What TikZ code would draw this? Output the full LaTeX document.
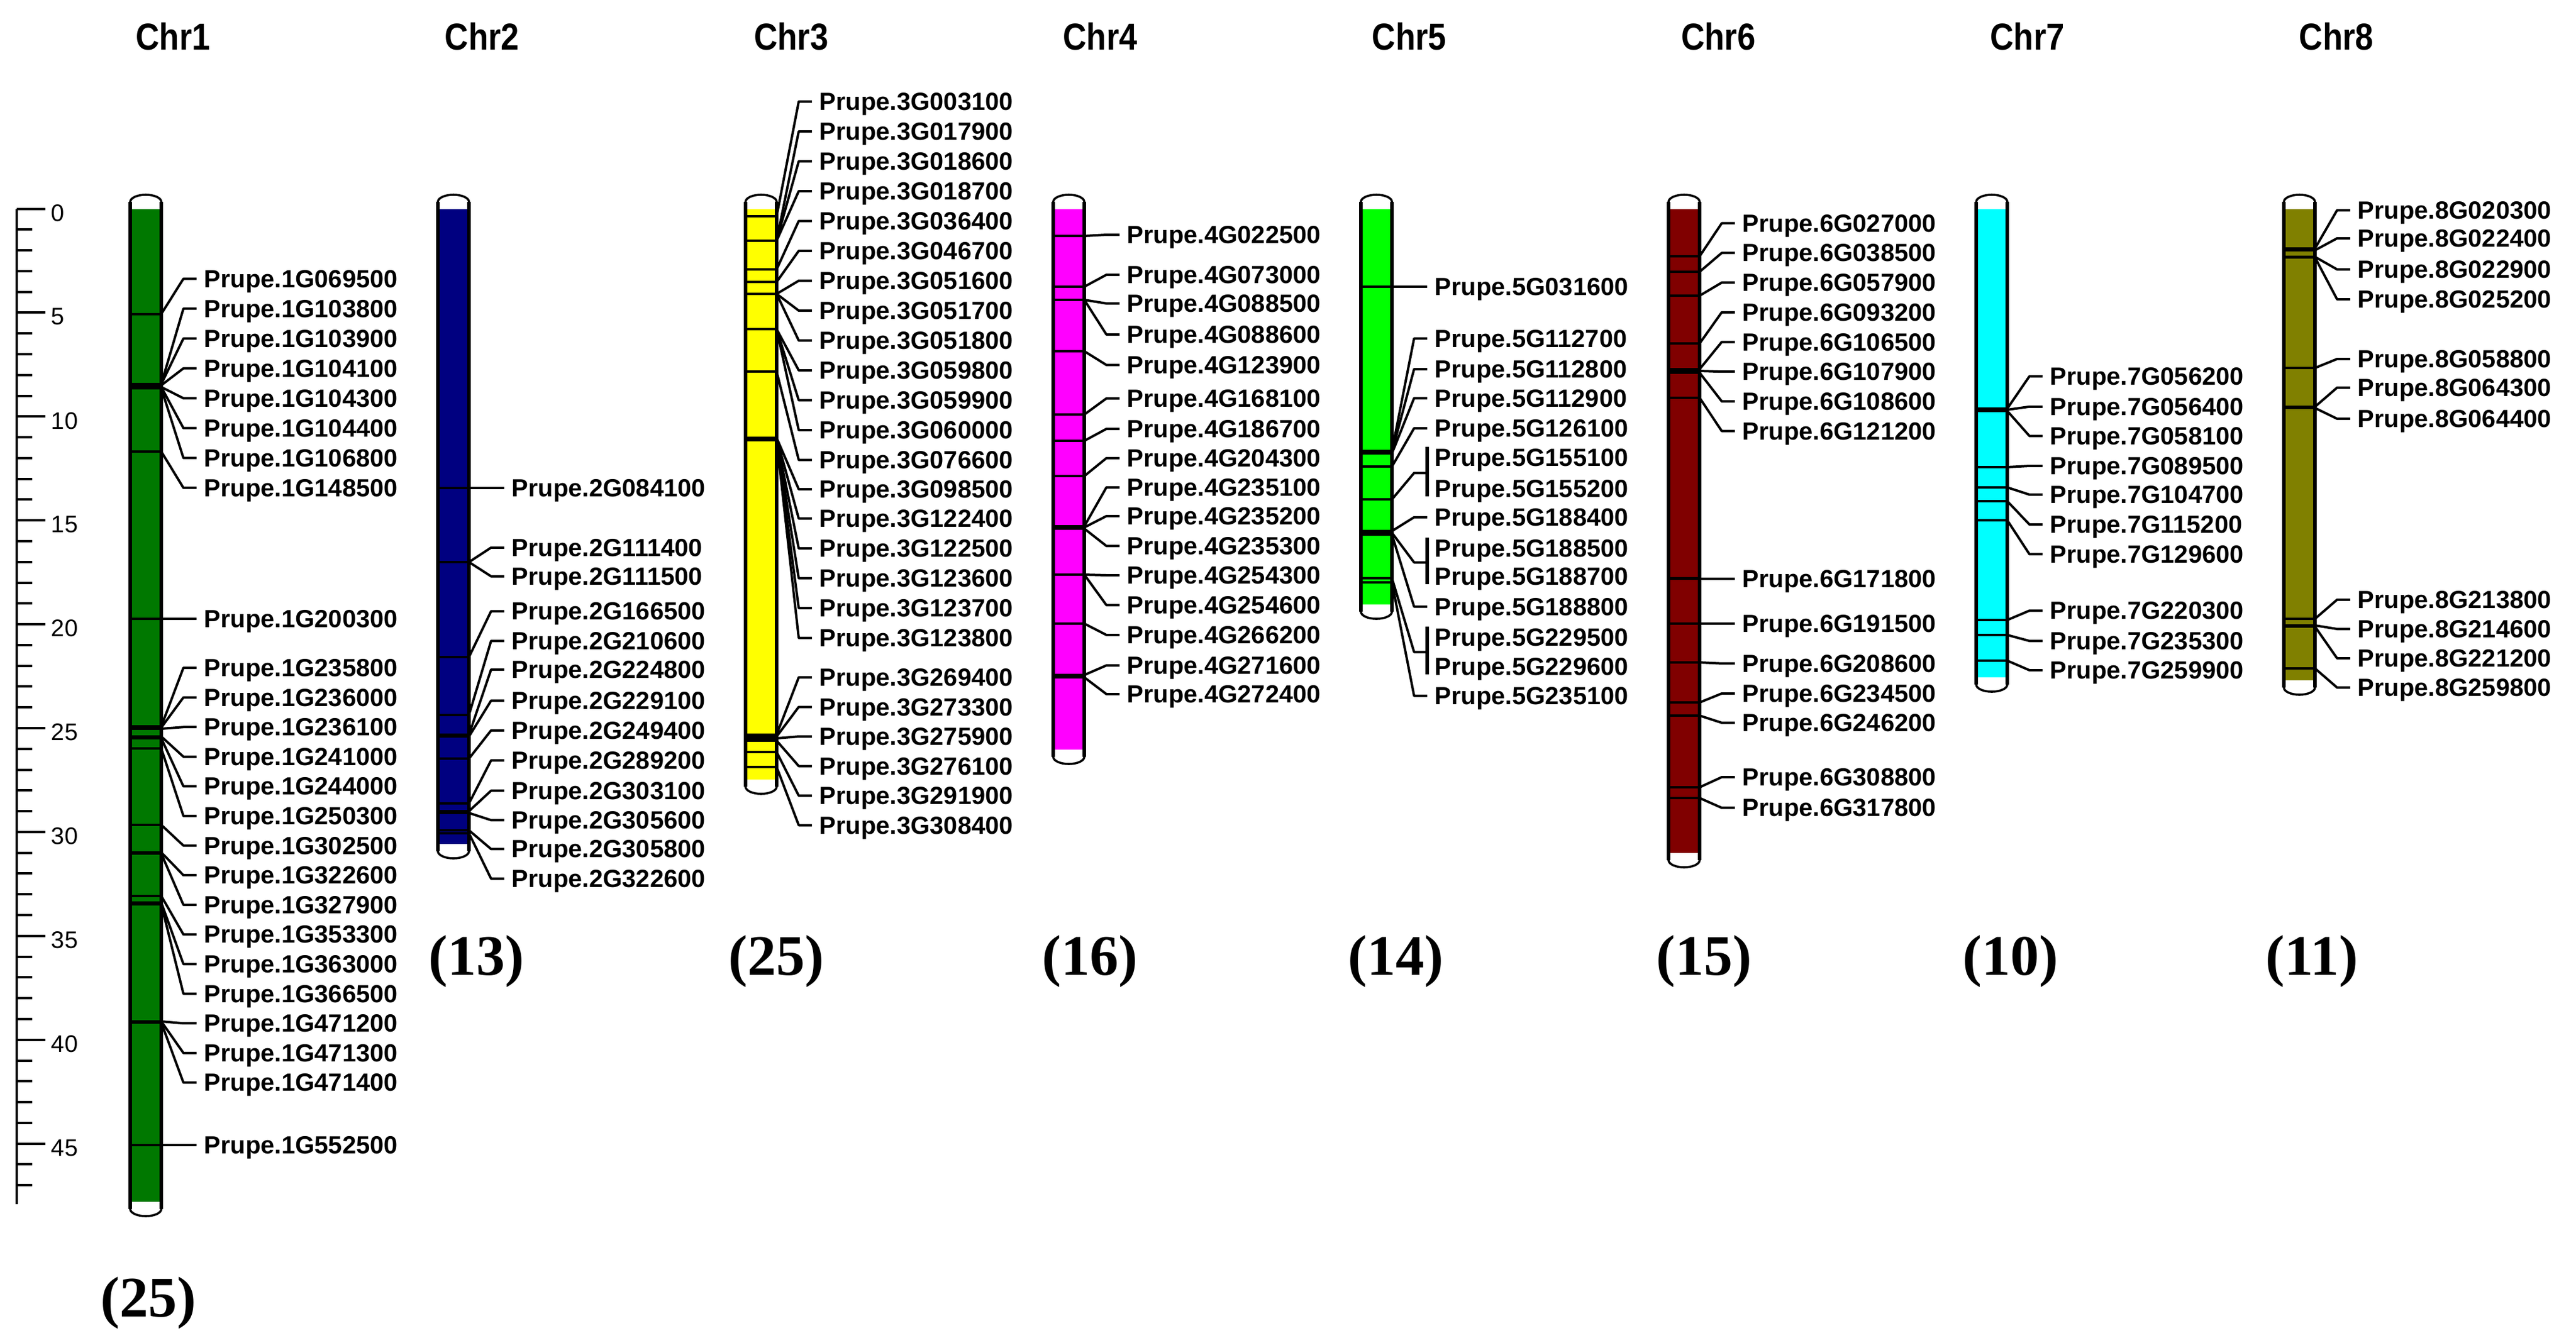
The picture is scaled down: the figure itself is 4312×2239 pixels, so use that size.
\documentclass[tikz,border=0pt]{standalone}
\usepackage{fontspec}
\setmainfont{Liberation Sans}
\newfontfamily\cntfont{Liberation Serif}
\usepackage{graphicx}
\usetikzlibrary{calc}
\definecolor{col1}{RGB}{0,120,0}
\definecolor{col2}{RGB}{0,0,128}
\definecolor{col3}{RGB}{255,255,0}
\definecolor{col4}{RGB}{255,0,255}
\definecolor{col5}{RGB}{0,255,0}
\definecolor{col6}{RGB}{128,0,0}
\definecolor{col7}{RGB}{0,255,255}
\definecolor{col8}{RGB}{128,128,0}
\tikzset{
  conn/.style={line width=1pt, line join=round},
  mk/.style={line width=1.05pt},
  side/.style={line width=1.7pt},
  capline/.style={line width=0.9pt, fill=white},
  lab/.style={anchor=base west, inner sep=0pt, font=\fontsize{10.4}{12}\selectfont\bfseries},
  ticklab/.style={anchor=west, inner sep=0pt, font=\fontsize{10}{12}\selectfont},
  axisline/.style={line width=1.2pt},
  tickline/.style={line width=1pt},
  chrtitle/.style={anchor=base west, inner sep=0pt, font=\fontsize{15.7}{18}\selectfont\bfseries},
  cnt/.style={inner sep=0pt, font=\cntfont\bfseries\fontsize{24}{28}\selectfont},
  brk/.style={line width=1.5pt}
}
% #1 index, #2 left x, #3 bottom y, #4 colour, #5 genes gy/ly/name
\newcommand{\chromo}[5]{%
  \pgfmathsetmacro{\xl}{#2}%
  \pgfmathsetmacro{\xr}{#2+52}%
  \fill[#4] (\xl,350) rectangle (\xr,#3);
  \foreach \gy/\ly/\gt [count=\k] in {#5} {
    \draw[mk] (\xl,\gy) -- (\xr,\gy);
    \coordinate (m#1-\k) at (\xr,\gy);
    \coordinate (b#1-\k) at (\xr+37,\ly);
    \coordinate (e#1-\k) at (\xr+59,\ly);
    \node[lab] (l#1-\k) at (\xr+71,\ly+14.5) {Prupe.\gt};
    \draw[conn] (m#1-\k) -- (b#1-\k) -- (e#1-\k);
  }
  \draw[capline] (\xl,350) -- (\xl,338) arc[start angle=180,end angle=0,x radius=6.5pt,y radius=3pt] -- (\xr,350);
  \draw[capline] (\xl,#3) -- (\xl,#3+12) arc[start angle=180,end angle=360,x radius=6.5pt,y radius=3pt] -- (\xr,#3);
  \draw[side] (\xl,338) -- (\xl,#3+12);
  \draw[side] (\xr,338) -- (\xr,#3+12);
}
\begin{document}
\begin{tikzpicture}[x=0.25pt,y=-0.25pt]
\fill[white] (0,0) rectangle (4312,2239);
\useasboundingbox (0,0) rectangle (4312,2239);

% ruler
\draw[axisline] (28,349.5) -- (28,2016);
\foreach \k in {0,...,47} {
  \draw[tickline] (28,{349.5+34.78*\k}) -- (54,{349.5+34.78*\k});
}
\foreach \k in {0,5,...,45} {
  \draw[tickline] (28,{349.5+34.78*\k}) -- (76,{349.5+34.78*\k});
  \node[ticklab] (t\k) at (85,{349.5+34.78*\k+7}) {\k};
}

% titles
\foreach \i in {1,...,8} {
  \node[chrtitle] (title\i) at ({226.7+517.3*(\i-1)},83) {\scalebox{0.87}[1]{Chr\i}};
}

% Chr1
\chromo{1}{218}{2012}{col1}{
525.6/466.7/1G069500,
643/516.7/1G103800,
643/566.7/1G103900,
645/616.7/1G104100,
648/666.7/1G104300,
648/716.7/1G104400,
650/766.7/1G106800,
756/816.7/1G148500,
1036/1036/1G200300,
1216/1118/1G235800,
1218/1167.6/1G236000,
1220/1217.2/1G236100,
1233/1266.8/1G241000,
1236/1316.4/1G244000,
1253/1366/1G250300,
1381/1415.6/1G302500,
1427/1465.2/1G322600,
1429/1514.8/1G327900,
1500/1564.4/1G353300,
1511/1614/1G363000,
1514/1663.6/1G366500,
1710/1713.2/1G471200,
1710/1762.8/1G471300,
1712/1812.4/1G471400,
1917/1917/1G552500}

% Chr2
\chromo{2}{733}{1413}{col2}{
816.6/816.6/2G084100,
941/916.8/2G111400,
941/964.8/2G111500,
1100/1023.3/2G166500,
1197/1073/2G210600,
1230/1121/2G224800,
1233/1173/2G229100,
1270/1222.8/2G249400,
1345/1273/2G289200,
1358/1323.7/2G303100,
1361/1373/2G305600,
1390/1421.4/2G305800,
1395/1471/2G322600}

% Chr3
\chromo{3}{1248}{1305}{col3}{
362/170/3G003100,
403/220/3G017900,
403/270/3G018600,
403/320/3G018700,
451/370/3G036400,
472/420/3G046700,
492/470/3G051600,
492/520/3G051700,
492/570/3G051800,
551/620/3G059800,
551/670/3G059900,
551/720/3G060000,
622/770/3G076600,
733/819/3G098500,
733/868/3G122400,
735/918/3G122500,
735/968/3G123600,
737/1018/3G123700,
737/1068/3G123800,
1230/1134/3G269400,
1233/1183.5/3G273300,
1236/1233/3G275900,
1240/1282.5/3G276100,
1259/1332/3G291900,
1284/1381.5/3G308400}

% Chr4
\chromo{4}{1763}{1255}{col4}{
395/393/4G022500,
480/460/4G073000,
502/508/4G088500,
502/560/4G088600,
588/611/4G123900,
694/667/4G168100,
738/718/4G186700,
797/767/4G204300,
881/816/4G235100,
883/864/4G235200,
885/914/4G235300,
962/963/4G254300,
962/1013/4G254600,
1044/1063/4G266200,
1130/1114/4G271600,
1134/1162/4G272400}

% Chr5
\chromo{5}{2278}{1012}{col5}{
480/480/5G031600,
755/566.7/5G112700,
757/618/5G112800,
759/666.6/5G112900,
781/717/5G126100,
889/866/5G188400,
895/1015.6/5G188800,
975/1164.8/5G235100}
% Chr5 bracketed pairs
\foreach \gy/\ma/\mb/\ta/\tb/\nm in {836/766/817.7/155100/155200/p1, 892/918/965/188500/188700/p2, 968/1067/1116/229500/229600/p3} {
  \draw[mk] (2280,\gy) -- (2328,\gy);
  \coordinate (m5-\nm) at (2330,\gy);
  \coordinate (b5-\nm) at (2367,{(\ma+\mb)/2});
  \coordinate (e5-\nm) at (2389,{(\ma+\mb)/2});
  \coordinate (bt5-\nm) at (2389,\ma-18);
  \coordinate (bb5-\nm) at (2389,\mb+13);
  \draw[brk] (bt5-\nm) -- (bb5-\nm);
  \draw[conn] (m5-\nm) -- (b5-\nm) -- (e5-\nm);
  \node[lab] (l5-\nm a) at (2401,\ma+14.5) {Prupe.5G\ta};
  \node[lab] (l5-\nm b) at (2401,\mb+14.5) {Prupe.5G\tb};
}
\draw[side] (2278,338) -- (2278,1024);
\draw[side] (2330,338) -- (2330,1024);

% Chr6
\chromo{6}{2793}{1428}{col6}{
429/373.7/6G027000,
455/423.4/6G038500,
495/473.1/6G057900,
575/522.8/6G093200,
618/572.5/6G106500,
621/622.2/6G107900,
624/671.9/6G108600,
666/721.6/6G121200,
968.5/968.5/6G171800,
1044/1044/6G191500,
1109/1110.7/6G208600,
1176/1161/6G234500,
1198/1210/6G246200,
1318/1301/6G308800,
1336/1352.4/6G317800}

% Chr7
\chromo{7}{3308}{1134}{col7}{
684/630/7G056200,
686/680.8/7G056400,
688/729.8/7G058100,
782/780/7G089500,
816/828/7G104700,
839/878/7G115200,
871/927.7/7G129600,
1038/1022.3/7G220300,
1063/1073/7G235300,
1106/1122/7G259900}

% Chr8
\chromo{8}{3823}{1139}{col8}{
416/352/8G020300,
419/399/8G022400,
430/451/8G022900,
431/501/8G025200,
616/601/8G058800,
681/649/8G064300,
683/701/8G064400,
1036/1004/8G213800,
1047/1053/8G214600,
1049/1102/8G221200,
1119/1151/8G259800}

% counts
\node[cnt] (n1) at (248,2181) {(25)};
\node[cnt] (n2) at (797,1609) {(13)};
\node[cnt] (n3) at (1299,1609) {(25)};
\node[cnt] (n4) at (1824,1609) {(16)};
\node[cnt] (n5) at (2336,1609) {(14)};
\node[cnt] (n6) at (2852,1609) {(15)};
\node[cnt] (n7) at (3365,1609) {(10)};
\node[cnt] (n8) at (3870,1609) {(11)};
\end{tikzpicture}
\end{document}
